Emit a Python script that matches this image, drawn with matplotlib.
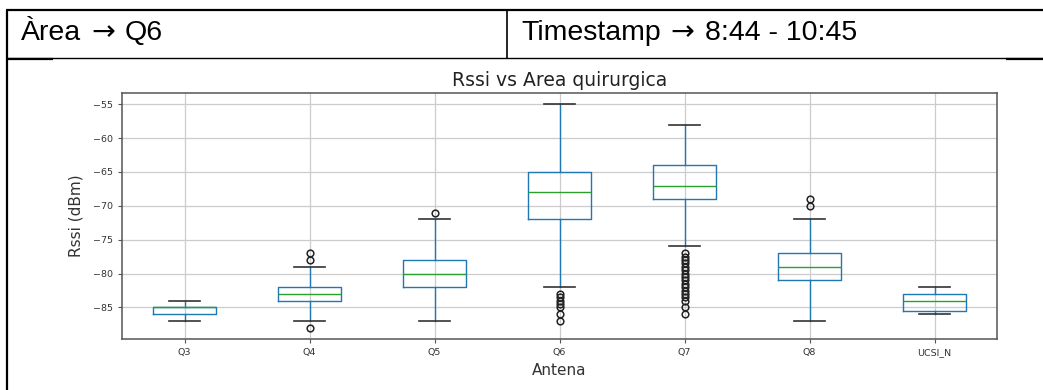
import matplotlib
matplotlib.use("Agg")
import matplotlib.pyplot as plt
from matplotlib.lines import Line2D

# ---- data ----
antennas = ['Q3', 'Q4', 'Q5', 'Q6', 'Q7', 'Q8', 'UCSI_N']
whis_lo = [-87, -87, -87, -82, -76, -87, -86]
q1_vals = [-86, -84, -82, -72, -69, -81, -85.5]
medians = [-85, -83, -80, -68, -67, -79, -84]
q3_vals = [-85, -82, -78, -65, -64, -77, -83]
whis_hi = [-84, -79, -72, -55, -58, -72, -82]
fliers_q3 = []
fliers_q4 = [-77, -78, -88]
fliers_q5 = [-71]
fliers_q6 = [-83, -83.5, -84, -84.5, -85, -86, -87]
fliers_q7 = [-77, -77.5, -78, -78.5, -79, -79.5, -80, -80.5, -81, -81.5,
             -82, -82.5, -83, -83.5, -84, -85, -86]
fliers_q8 = [-69, -70]
fliers_ucsi = []
fliers_all = [fliers_q3, fliers_q4, fliers_q5, fliers_q6, fliers_q7, fliers_q8, fliers_ucsi]
yticks = [-85, -80, -75, -70, -65, -60, -55]

title_text = 'Rssi vs Area quirurgica'
xlabel_text = 'Antena'
ylabel_text = 'Rssi (dBm)'
cell_left_parts = ['Àrea', '→', 'Q6']
cell_right_parts = ['Timestamp', '→', '8:44 - 10:45']

W, H = 1043, 390
fig = plt.figure(figsize=(W / 100, H / 100), dpi=100)
fig.patch.set_facecolor('white')

def fx(px):
    return px / W

def fy(py):
    return 1 - py / H

# ---- table frame ----
def hline(y, x0, x1, lw):
    fig.add_artist(Line2D([fx(x0), fx(x1)], [fy(y), fy(y)], color='black', lw=lw,
                          transform=fig.transFigure, solid_capstyle='butt'))

def vline(x, y0, y1, lw):
    fig.add_artist(Line2D([fx(x), fx(x)], [fy(y0), fy(y1)], color='black', lw=lw,
                          transform=fig.transFigure, solid_capstyle='butt'))

hline(10, 6, 1043, 1.6)
vline(7, 9.5, 390, 1.6)
vline(507, 10, 58, 1.2)
hline(58, 7, 1043, 1.0)
hline(59, 7, 53, 1.6)
hline(59, 1006, 1043, 1.6)

renderer = fig.canvas.get_renderer()

def cell_text(x_px, parts, gap=10):
    x = x_px
    for part in parts:
        if part == '→':
            t = fig.text(fx(x), fy(40), part, fontsize=20.5, family=['DejaVu Sans'],
                         ha='left', va='baseline', color='black')
        else:
            t = fig.text(fx(x), fy(40), part, fontsize=20.5,
                         family=['Liberation Sans', 'DejaVu Sans'],
                         ha='left', va='baseline', color='black')
        bb = t.get_window_extent(renderer=renderer)
        x = x + bb.width + gap

cell_text(21, cell_left_parts)
cell_text(521, cell_right_parts)

# ---- box plot ----
ax = fig.add_axes([fx(122), fy(339), fx(997) - fx(122), fy(93) - fy(339)])

stats = []
for i, name in enumerate(antennas):
    stats.append(dict(label=name, whislo=whis_lo[i], q1=q1_vals[i], med=medians[i],
                      q3=q3_vals[i], whishi=whis_hi[i], fliers=fliers_all[i]))

ax.bxp(stats, widths=0.5, showfliers=True,
       boxprops=dict(color='#1f77b4', lw=1.0),
       whiskerprops=dict(color='#1f77b4', lw=1.0),
       capprops=dict(color='#333333', lw=1.2),
       medianprops=dict(color='#2ca02c', lw=1.0),
       flierprops=dict(marker='o', markerfacecolor='none', markeredgecolor='#222222',
                       markersize=4.8, markeredgewidth=1.1, linestyle='none'))

all_vals = whis_lo + whis_hi + [v for f in fliers_all for v in f]
lo, hi = min(all_vals), max(all_vals)
pad = 0.05 * (hi - lo)
ax.set_ylim(lo - pad, hi + pad)
ax.set_xlim(0.5, len(antennas) + 0.5)
ax.set_yticks(yticks)

ax.grid(True, color='#cccccc', lw=0.9)
ax.set_axisbelow(True)
for s in ax.spines.values():
    s.set_color('#555555')
    s.set_linewidth(1.1)
ax.tick_params(axis='both', labelsize=6.8, colors='#555555', labelcolor='#333333',
               length=3, width=0.8)

ax.set_title(title_text, fontsize=13.5, color='#222222', pad=5)
ax.set_xlabel(xlabel_text, fontsize=11, color='#333333', labelpad=4)
ax.set_ylabel(ylabel_text, fontsize=11, color='#333333', labelpad=7)

fig.savefig('out.png', dpi=100, facecolor='white')
